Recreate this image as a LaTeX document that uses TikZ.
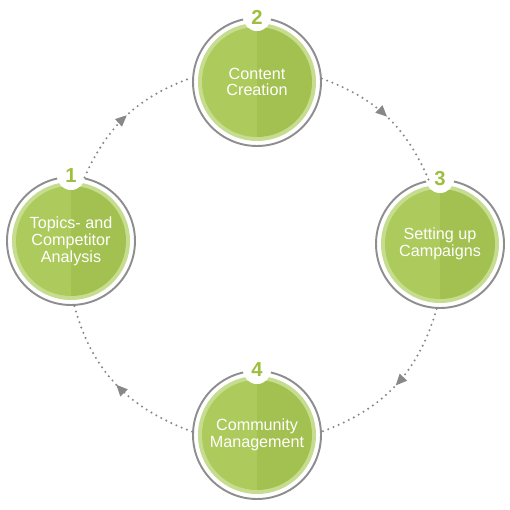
\documentclass[tikz,border=0pt]{standalone}
\usepackage{fontspec}
\setmainfont{Liberation Sans}
\usetikzlibrary{arrows.meta,decorations.markings}
\definecolor{leafl}{HTML}{ADCA5C}
\definecolor{leafd}{HTML}{A3C150}
\definecolor{leafrim}{HTML}{C6DC8E}
\definecolor{leafnum}{HTML}{9DBE3F}
\definecolor{ringgray}{HTML}{8E8E8E}
\definecolor{dotgray}{HTML}{888888}

\begin{document}
\begin{tikzpicture}[
	phase/.style={circle, draw=ringgray, line width=1.1pt, minimum size=2.56cm, inner sep=0pt, align=center, text=white, font=\fontsize{9.2}{9.6}\selectfont},
	badge/.style={circle, fill=white, minimum size=0.56cm, inner sep=0pt, text=leafnum, font=\fontsize{11.5}{11.5}\selectfont\bfseries},
	flow/.style={dotgray, line width=1.3pt, line cap=round, dash pattern=on 0pt off 3.2pt, postaction={decorate}, decoration={markings, mark=at position 0.5 with {\arrow[solid]{Triangle[length=6.5pt,width=5.5pt]}}}}
	]
	\useasboundingbox (0,0) rectangle (10.2,10.2);
	
	\foreach \x/\y in {1.42/5.38, 5.14/8.56, 8.80/5.32, 5.14/1.50}
	{
		\fill [leafrim] (\x,\y) circle (1.18);
		\fill [leafl] (\x,\y) ++(90:1.10) arc (90:270:1.10) -- cycle;
		\fill [leafd] (\x,\y) ++(-90:1.10) arc (-90:90:1.10) -- cycle;
	}
	
	\node [phase] (topics) at (1.42,5.38) {Topics- and\\Competitor\\Analysis};
	\node [phase] (content) at (5.14,8.56) {Content\\Creation};
	\node [phase] (campaigns) at (8.80,5.32) {Setting up\\Campaigns};
	\node [phase] (community) at (5.14,1.50) {Community\\Management};
	
	\node [badge] (num1) at (topics.north) {1};
	\node [badge] (num2) at (content.north) {2};
	\node [badge] (num3) at (campaigns.north) {3};
	\node [badge] (num4) at (community.north) {4};
	
	\draw [flow] (topics.78) to [out=66, in=200] (content.176);
	\draw [flow] (content.3) to [out=-20, in=113] (campaigns.100);
	\draw [flow] (campaigns.267) to [out=254, in=20] (community.3);
	\draw [flow] (community.177) to [out=160, in=285] (topics.273);
\end{tikzpicture}
\end{document}
